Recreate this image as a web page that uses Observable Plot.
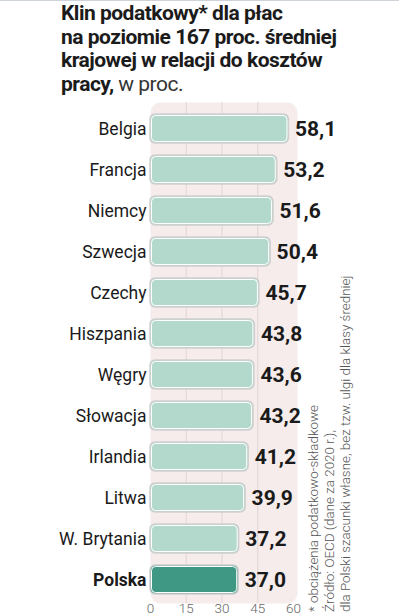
<!DOCTYPE html>
<html>
<head>
<meta charset="utf-8">
<script src="https://cdn.jsdelivr.net/npm/d3@7"></script>
<script src="https://cdn.jsdelivr.net/npm/@observablehq/plot@0.6"></script>
<style>
  html, body { margin: 0; padding: 0; background: #fff; }
  #wrap { position: relative; width: 399px; height: 615px; overflow: hidden; font-family: Roboto, "Open Sans", sans-serif; }
  #topline { position: absolute; left: 0; top: 0; width: 399px; height: 1px; background: #cfd3da; }
  #title { position: absolute; left: 61px; top: 2px; font-size: 21px; line-height: 23.5px; font-weight: 700; color: #1b1b1b; letter-spacing: -0.5px; white-space: nowrap; }
  #title .light { font-weight: 400; color: #333; }
  #chart { position: absolute; left: 0; top: 100px; }
  #foot { position: absolute; left: 306px; top: 612px; transform: rotate(-90deg); transform-origin: 0 0; font-size: 13.4px; line-height: 16px; color: #555; font-weight: 300; white-space: nowrap; }
</style>
</head>
<body>
<div id="wrap">
  <div id="topline"></div>
  <div id="title">Klin podatkowy* dla płac<br>na poziomie 167 proc. średniej<br>krajowej w relacji do kosztów<br>pracy, <span class="light">w proc.</span></div>
  <div id="chart"></div>
  <div id="foot">* obciążenia podatkowo-składkowe<br>Źródło: OECD (dane za 2020 r.),<br>dla Polski szacunki własne, bez tzw. ulgi dla klasy średniej</div>
</div>
<script>
const countries = ["Belgia","Francja","Niemcy","Szwecja","Czechy","Hiszpania","Węgry","Słowacja","Irlandia","Litwa","W. Brytania","Polska"];
const values = [58.1, 53.2, 51.6, 50.4, 45.7, 43.8, 43.6, 43.2, 41.2, 39.9, 37.2, 37.0];
const xTicks = [0, 15, 30, 45, 60];
const gridTicks = [15, 30, 45];
const highlight = "Polska";

const data = countries.map((c, i) => ({country: c, value: values[i], hl: c === highlight}));
const fmt = v => v.toFixed(1).replace(".", ",");

const chart = Plot.plot({
  width: 399,
  height: 515,
  marginLeft: 150,
  marginRight: 102,
  marginTop: 2,
  marginBottom: 12,
  style: {fontFamily: "Roboto, sans-serif", background: "transparent"},
  x: {domain: [0, 60], range: [150, 293], label: null},
  y: {domain: countries, range: [1.6, 506.1], padding: 0.29, label: null, axis: null},
  marks: [
    Plot.frame({fill: "#f6ecec", stroke: "none", rx: 10}),
    Plot.gridX(gridTicks, {stroke: "#e3d3d3", strokeOpacity: 1}),
    Plot.barX(data, {x: "value", y: "country", fill: d => d.hl ? "#3f9883" : "#b3d9cc", rx: 5, stroke: "#cfcfcf", strokeWidth: 1.5}),
    Plot.barX(data, {x: "value", y: "country", fill: "none", rx: 4, stroke: "#ffffff", strokeWidth: 1, inset: 1.5}),
    Plot.text(data, {x: "value", y: "country", text: d => fmt(d.value), dx: 6, textAnchor: "start", fontWeight: "bold", fontSize: 21, fill: "#1a1a1a", style: "letter-spacing:-0.6px"}),
    Plot.text(data.filter(d => !d.hl), {y: "country", text: "country", frameAnchor: "left", dx: -4, textAnchor: "end", fontSize: 17.5, fill: "#1a1a1a"}),
    Plot.text(data.filter(d => d.hl), {y: "country", text: "country", frameAnchor: "left", dx: -4, textAnchor: "end", fontSize: 17.5, fontWeight: "bold", fill: "#1a1a1a"}),
    Plot.axisX(xTicks, {tickSize: 0, tickPadding: 0, fontSize: 13.5, fill: "#666", fontWeight: 300})
  ]
});
document.getElementById("chart").appendChild(chart);
</script>
</body>
</html>
